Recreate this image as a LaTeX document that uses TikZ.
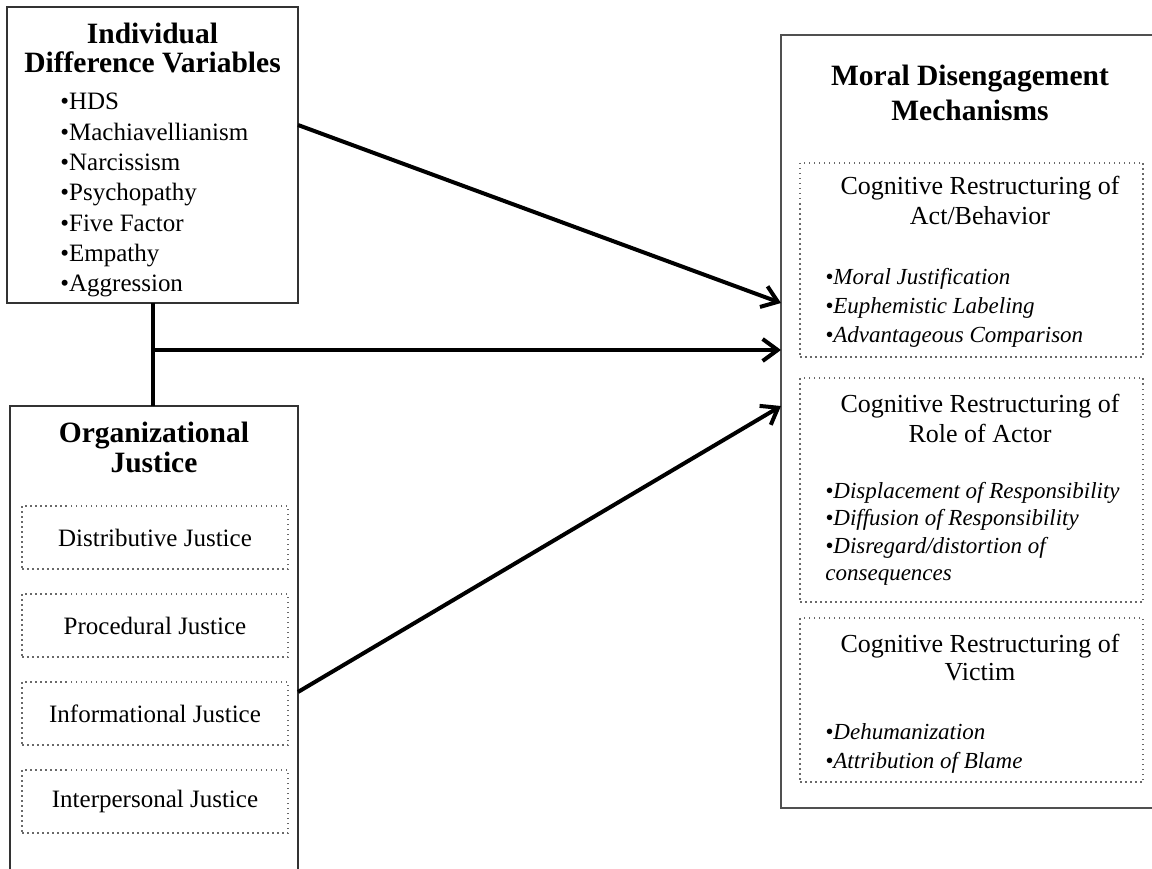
\documentclass[tikz,border=0pt]{standalone}
\usepackage{fontspec}
\setmainfont{Liberation Serif}
\usetikzlibrary{arrows.meta}
\tikzset{every picture/.style={line width=0.75pt}}
\tikzset{
  mainbox/.style={draw={rgb, 255:red, 51; green, 51; blue, 51}, line width=2pt, inner sep=0pt, outer sep=0pt},
  dotbox/.style={draw={rgb, 255:red, 105; green, 105; blue, 105}, line width=1.5pt, dash pattern=on 1.5pt off 3.5pt, inner sep=0pt, outer sep=0pt, font=\fontsize{25}{30}\selectfont},
  link/.style={line width=4pt, -{Straight Barb[length=15pt,width=22pt]}},
  heading/.style={anchor=base, inner sep=0pt, font=\fontsize{29.5}{30}\bfseries\selectfont},
  item/.style={anchor=base west, inner sep=0pt, font=\fontsize{25}{30}\selectfont},
  subhead/.style={anchor=base, inner sep=0pt, font=\fontsize{26}{30}\selectfont},
  mech/.style={anchor=base west, inner sep=0pt, font=\fontsize{23}{30}\itshape\selectfont},
}

\begin{document}
\begin{tikzpicture}[x=1pt,y=1pt,yscale=-1,xscale=1]
\useasboundingbox (0,0) rectangle (1152,869);
\clip (0,0) rectangle (1152,869);

%Shape: Rectangle [id:idv]
\node [mainbox, minimum width=291, minimum height=296] (idv) at (152.5,155) {};
%Shape: Rectangle [id:org]
\node [mainbox, minimum width=288, minimum height=494] (org) at (154,653) {};
%Shape: Rectangle [id:mde]
\node [mainbox, draw={rgb, 255:red, 80; green, 80; blue, 80}, minimum width=389, minimum height=773] (mde) at (975.5,421.5) {};

%Shape: Dotted boxes, justice types
\node [dotbox, minimum width=266, minimum height=63] (dist) at (155,537.5) {Distributive Justice};
\node [dotbox, minimum width=266, minimum height=63] (proc) at (155,625.5) {Procedural Justice};
\node [dotbox, minimum width=266, minimum height=63] (info) at (155,713.5) {Informational Justice};
\node [dotbox, minimum width=266, minimum height=63] (inter) at (155,801.5) {Interpersonal Justice};

%Shape: Dotted boxes, mechanisms
\node [dotbox, minimum width=343, minimum height=194] (act) at (971.5,260) {};
\node [dotbox, minimum width=343, minimum height=224] (role) at (971.5,490) {};
\node [dotbox, minimum width=343, minimum height=164] (vict) at (971.5,700) {};

% Text Node
\node [heading] (idvt1) at (152.5,44) {Individual};
\node [heading] (idvt2) at (152.5,73) {Difference Variables};
% Text Node
\node [item] (hds) at (60,110) {•HDS};
\node [item] (mach) at (60,140.3) {•Machiavellianism};
\node [item] (narc) at (60,170.6) {•Narcissism};
\node [item] (psych) at (60,200.9) {•Psychopathy};
\node [item] (ffm) at (60,231.2) {•Five Factor};
\node [item] (emp) at (60,261.5) {•Empathy};
\node [item] (aggr) at (60,291.8) {•Aggression};
% Text Node
\node [heading] (orgt1) at (154,442) {Organizational};
\node [heading] (orgt2) at (154,472) {Justice};
% Text Node
\node [heading] (mdet1) at (970,86) {Moral Disengagement};
\node [heading] (mdet2) at (970,121) {Mechanisms};
% Text Node
\node [subhead] (actt1) at (980,195) {Cognitive Restructuring of};
\node [subhead] (actt2) at (980,225) {Act/Behavior};
\node [mech] (mj) at (825,285) {•Moral Justification};
\node [mech] (el) at (825,313.5) {•Euphemistic Labeling};
\node [mech] (ac) at (825,342) {•Advantageous Comparison};
% Text Node
\node [subhead] (rolet1) at (980,412) {Cognitive Restructuring of};
\node [subhead] (rolet2) at (980,442) {Role of Actor};
\node [mech] (dr) at (825,498) {•Displacement of Responsibility};
\node [mech] (dfr) at (825,525.5) {•Diffusion of Responsibility};
\node [mech] (dc) at (825,553) {•Disregard/distortion of};
\node [mech] (dc2) at (825,580.5) {consequences};
% Text Node
\node [subhead] (victt1) at (980,652) {Cognitive Restructuring of};
\node [subhead] (victt2) at (980,680) {Victim};
\node [mech] (deh) at (825,739) {•Dehumanization};
\node [mech] (ab) at (825,768) {•Attribution of Blame};

%Straight Lines: connectors
\coordinate (idvout) at (idv.east |- 0,125);
\coordinate (mdein1) at (mde.west |- 0,303);
\draw [link] (idvout) -- (mdein1);
\draw [line width=4pt] (idv.south) -- (idv.south |- org.north);
\coordinate (jn) at (idv.south |- 0,350);
\coordinate (mdein2) at (jn -| mde.west);
\draw [link] (jn) -- (mdein2);
\coordinate (orgout) at (org.east |- 0,692);
\coordinate (mdein3) at (mde.west |- 0,406);
\draw [link] (orgout) -- (mdein3);

\end{tikzpicture}
\end{document}
